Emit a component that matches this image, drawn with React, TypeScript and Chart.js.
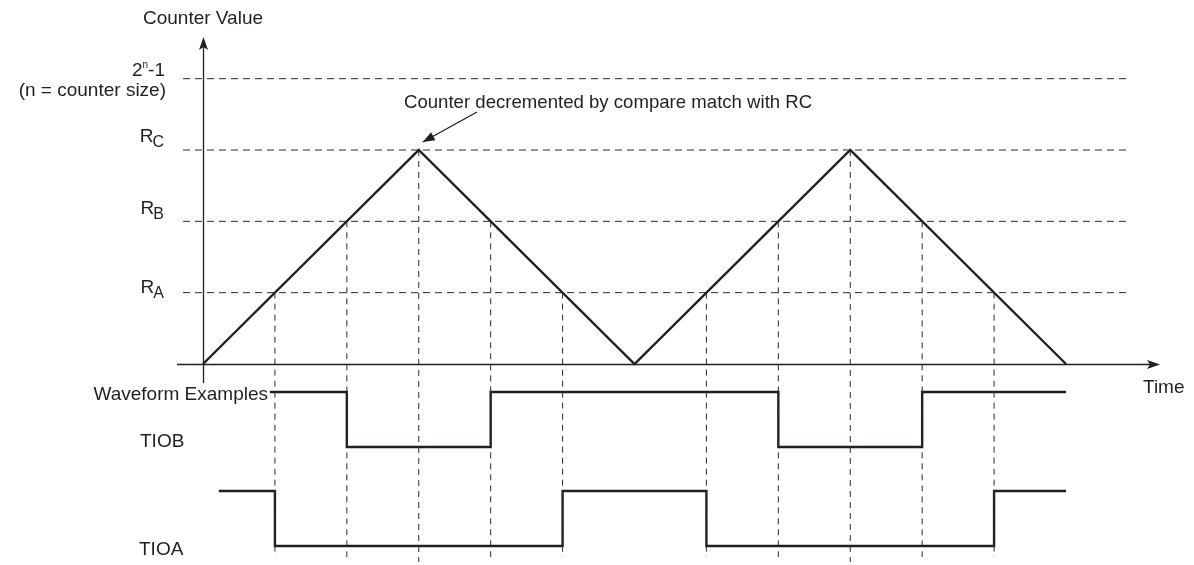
import { useEffect, useRef } from 'react';
import { Chart, registerables } from 'chart.js';

Chart.register(...registerables);

// ---- Data (time in compare-period units, counter value in register units) ----
const counterTimes = [0, 3, 6, 9, 12];
const counterValues = [0, 3, 0, 3, 0];

const levelNames = ['A', 'B', 'C']; // R_A, R_B, R_C
const levelValues = [1, 2, 3];
const topValue = 4; // 2^n-1

const matchTimes = [1, 2, 3, 4, 5, 7, 8, 9, 10, 11];
const matchValues = [1, 2, 3, 2, 1, 1, 2, 3, 2, 1];

const tiobTimes = [0.93, 2, 4, 8, 10, 12];
const tiobLevels = [1, 0, 1, 0, 1, 1];
const tioaTimes = [0.22, 1, 5, 7, 11, 12];
const tioaLevels = [1, 0, 1, 0, 1, 1];

// ---- Layout constants ----
const W = 1194;
const H = 565;
const X_UNIT = 863 / 12;
const X_MIN = -203 / X_UNIT;
const X_MAX = X_MIN + W / X_UNIT;
const Y_UNIT = 214 / 3;
const Y_MAX = 364 / Y_UNIT;
const Y_MIN = Y_MAX - H / Y_UNIT;
const TIOB_LANE = { low: (364 - 447) / Y_UNIT, high: (364 - 392) / Y_UNIT };
const TIOA_LANE = { low: (364 - 546) / Y_UNIT, high: (364 - 491) / Y_UNIT };
const DASH_X_START = -20 / X_UNIT;
const DASH_X_END = (1130 - 203) / X_UNIT;
const VDASH_END = (364 - 557) / Y_UNIT;
const VDASH_END_PEAK = (364 - 562) / Y_UNIT;
const LABEL_DY = [0, -7, -8];

const INK = '#231f20';
const DASH = '#2a2a2a';
const FONT = '"Liberation Sans", Arial, Helvetica, sans-serif';

function lane(times: number[], levels: number[], l: { low: number; high: number }) {
  return times.map((t, i) => ({ x: t, y: l.low + levels[i] * (l.high - l.low) }));
}

const decorPlugin = {
  id: 'decor',
  beforeDatasetsDraw(chart: any) {
    const { ctx, scales } = chart;
    const xs = (v: number) => scales.x.getPixelForValue(v);
    const ys = (v: number) => scales.y.getPixelForValue(v);
    ctx.save();
    ctx.strokeStyle = INK;
    ctx.fillStyle = INK;
    ctx.lineWidth = 1.3;
    const ox = Math.round(xs(0)) + 0.5;
    const oy = Math.round(ys(0)) + 0.5;
    // x axis
    const xEnd = 1160;
    ctx.beginPath();
    ctx.moveTo(177, oy);
    ctx.lineTo(xEnd - 8, oy);
    ctx.stroke();
    ctx.beginPath();
    ctx.moveTo(xEnd, oy);
    ctx.lineTo(xEnd - 13, oy - 4.5);
    ctx.lineTo(xEnd - 10, oy);
    ctx.lineTo(xEnd - 13, oy + 4.5);
    ctx.closePath();
    ctx.fill();
    // y axis
    const yTop = 37;
    ctx.beginPath();
    ctx.moveTo(ox, 383);
    ctx.lineTo(ox, yTop + 8);
    ctx.stroke();
    ctx.beginPath();
    ctx.moveTo(ox, yTop);
    ctx.lineTo(ox - 4.5, yTop + 13);
    ctx.lineTo(ox, yTop + 10);
    ctx.lineTo(ox + 4.5, yTop + 13);
    ctx.closePath();
    ctx.fill();
    ctx.restore();
  },
  afterDatasetsDraw(chart: any) {
    const { ctx, scales } = chart;
    const xs = (v: number) => scales.x.getPixelForValue(v);
    const ys = (v: number) => scales.y.getPixelForValue(v);
    ctx.save();
    ctx.fillStyle = INK;
    ctx.strokeStyle = INK;
    ctx.textBaseline = 'alphabetic';
    const f = (s: number) => `${s}px ${FONT}`;

    // axis titles
    ctx.font = f(19);
    ctx.textAlign = 'center';
    ctx.fillText('Counter Value', xs(0), 24);
    ctx.textAlign = 'left';
    ctx.fillText('Time', 1143, 393);

    // level labels R_A, R_B, R_C
    const rightX = 164;
    levelNames.forEach((name, i) => {
      const base = ys(levelValues[i]) + LABEL_DY[i];
      ctx.font = f(16);
      const sw = ctx.measureText(name).width;
      ctx.font = f(19);
      const rw = ctx.measureText('R').width;
      ctx.textAlign = 'left';
      ctx.fillText('R', rightX - sw - rw + 1, base);
      ctx.font = f(16);
      ctx.fillText(name, rightX - sw, base + 5);
    });

    // 2^n-1 label
    {
      const base = ys(topValue) - 3;
      ctx.font = f(19);
      const w2 = ctx.measureText('2').width;
      const wm = ctx.measureText('-1').width;
      ctx.font = f(10);
      const wn = ctx.measureText('n').width;
      const right = 165;
      const x0 = right - wm - wn - w2;
      ctx.textAlign = 'left';
      ctx.font = f(19);
      ctx.fillText('2', x0, base);
      ctx.font = f(10);
      ctx.fillText('n', x0 + w2, base - 8);
      ctx.font = f(19);
      ctx.fillText('-1', x0 + w2 + wn, base);
      ctx.textAlign = 'right';
      ctx.fillText('(n = counter size)', 166, base + 20);
    }

    // waveform labels
    ctx.font = f(19);
    ctx.textAlign = 'right';
    ctx.fillText('Waveform Examples', 268, 400);
    ctx.textAlign = 'left';
    ctx.fillText('TIOB', 140, ys(TIOB_LANE.low));
    ctx.fillText('TIOA', 139, ys(TIOA_LANE.low) + 9);

    // annotation
    ctx.font = f(18.6);
    ctx.fillText('Counter decremented by compare match with RC', 404, 108);
    const tipX = xs(3) + 4;
    const tipY = ys(3) - 8;
    const sx = 477;
    const sy = 112;
    ctx.lineWidth = 1.3;
    ctx.beginPath();
    ctx.moveTo(sx, sy);
    ctx.lineTo(tipX, tipY);
    ctx.stroke();
    const ang = Math.atan2(tipY - sy, tipX - sx);
    const L = 12;
    const hw = 4.5;
    const bx = tipX - L * Math.cos(ang);
    const by = tipY - L * Math.sin(ang);
    ctx.beginPath();
    ctx.moveTo(tipX, tipY);
    ctx.lineTo(bx + hw * Math.sin(ang), by - hw * Math.cos(ang));
    ctx.lineTo(bx - hw * Math.sin(ang), by + hw * Math.cos(ang));
    ctx.closePath();
    ctx.fill();
    ctx.restore();
  },
};

export default function App() {
  const ref = useRef<HTMLCanvasElement>(null);
  useEffect(() => {
    if (!ref.current) return;
    const hDash = [...levelValues, topValue].map((v) => ({
      data: [
        { x: DASH_X_START, y: v },
        { x: DASH_X_END, y: v },
      ],
      borderColor: DASH,
      borderWidth: 1,
      borderDash: [7, 5],
      showLine: true,
      pointRadius: 0,
    }));
    const vDash = matchTimes.map((t, i) => ({
      data: [
        { x: t, y: matchValues[i] },
        { x: t, y: matchValues[i] === 3 ? VDASH_END_PEAK : VDASH_END },
      ],
      borderColor: DASH,
      borderWidth: 1,
      borderDash: [6, 5],
      showLine: true,
      pointRadius: 0,
    }));
    const solid = (data: { x: number; y: number }[], stepped: any) => ({
      data,
      borderColor: INK,
      borderWidth: 2.4,
      showLine: true,
      pointRadius: 0,
      stepped,
      borderJoinStyle: 'miter' as const,
    });
    const chart = new Chart(ref.current, {
      type: 'scatter',
      data: {
        datasets: [
          ...hDash,
          ...vDash,
          solid(counterTimes.map((t, i) => ({ x: t, y: counterValues[i] })), false),
          solid(lane(tiobTimes, tiobLevels, TIOB_LANE), 'before'),
          solid(lane(tioaTimes, tioaLevels, TIOA_LANE), 'before'),
        ] as any,
      },
      options: {
        animation: false,
        responsive: false,
        devicePixelRatio: 1,
        layout: { padding: 0 },
        plugins: { legend: { display: false }, tooltip: { enabled: false } },
        events: [],
        scales: {
          x: { type: 'linear', min: X_MIN, max: X_MAX, display: false },
          y: { type: 'linear', min: Y_MIN, max: Y_MAX, display: false },
        },
      },
      plugins: [decorPlugin],
    });
    return () => chart.destroy();
  }, []);
  return (
    <div style={{ position: 'absolute', left: 0, top: 0, width: W, height: H, background: '#fff' }}>
      <canvas ref={ref} width={W} height={H} style={{ display: 'block' }} />
    </div>
  );
}
